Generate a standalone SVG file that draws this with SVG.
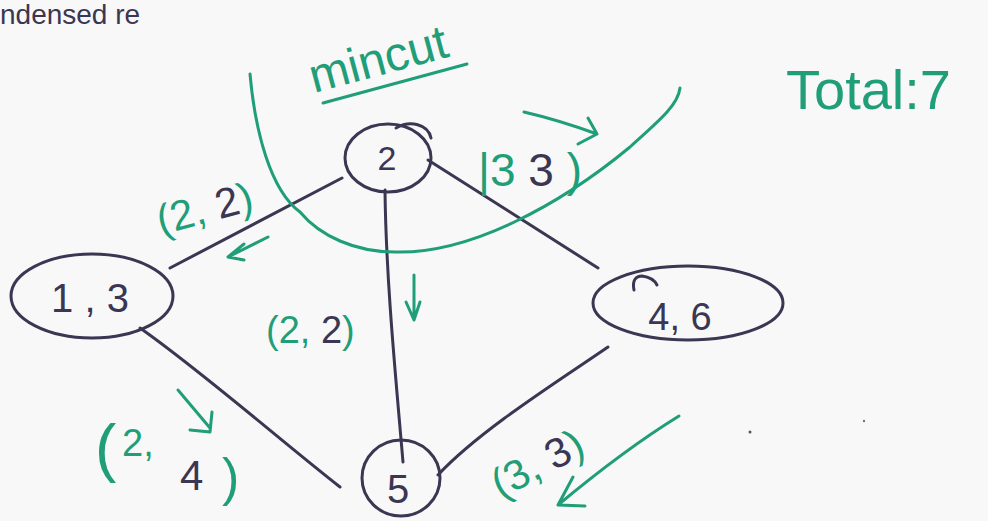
<svg xmlns="http://www.w3.org/2000/svg" width="988" height="521" viewBox="0 0 988 521">
  <defs>
    <style>
      .ink { fill: none; stroke: #3b3652; stroke-width: 3; stroke-linecap: round; stroke-linejoin: round; }
      .pen { fill: none; stroke: #1f9e78; stroke-width: 3; stroke-linecap: round; stroke-linejoin: round; }
      .t { font-family: "Liberation Sans", "DejaVu Sans", sans-serif; }
      .dark { fill: #3b3652; }
      .green { fill: #1f9e78; }
    </style>
  </defs>
  <rect width="988" height="521" fill="#f8f8f9"/>

  <!-- heading line along the top edge -->
  <text class="t dark" x="0" y="24" font-size="28">ndensed re</text>

  <!-- edges -->
  <g id="connectors">
    <path class="ink" d="M342,178 L170,268"/>
    <path class="ink" d="M385,190 C386,280 396,380 403,462"/>
    <path class="ink" d="M428,160 L598,268"/>
    <path class="ink" d="M140,328 C200,370 280,440 340,487"/>
    <path class="ink" d="M608,347 C560,380 480,430 438,475"/>
  </g>

  <!-- nodes -->
  <g id="node-2">
    <ellipse class="ink" cx="388" cy="158" rx="43" ry="34"/>
    <path class="ink" d="M396,128 C410,120 428,124 431,138"/>
    <text class="t dark" x="387" y="170" font-size="34" text-anchor="middle">2</text>
  </g>
  <g id="node-1-3">
    <ellipse class="ink" cx="92" cy="296" rx="81" ry="42"/>
    <text class="t dark" x="90" y="312" font-size="40" text-anchor="middle">1 , 3</text>
  </g>
  <g id="node-4-6">
    <ellipse class="ink" cx="688" cy="303" rx="95" ry="37"/>
    <path class="ink" d="M634,290 C632,280 636,276 642,276 C650,277 655,281 657,285"/>
    <text class="t dark" x="680" y="330" font-size="38" text-anchor="middle">4, 6</text>
  </g>
  <g id="node-5">
    <ellipse class="ink" cx="401" cy="478" rx="39" ry="38"/>
    <text class="t dark" x="398" y="503" font-size="40" text-anchor="middle">5</text>
  </g>

  <!-- cut line and its title -->
  <g id="mincut">
    <path class="pen" d="M250,74 C255,130 270,190 300,212 C320,236 355,252 395,252 C470,254 560,205 630,147 C660,120 678,105 680,88"/>
    <text class="t green" x="314" y="93" font-size="48" transform="rotate(-15 314 93)">mincut</text>
    <path class="pen" d="M323,103 L467,64"/>
  </g>

  <g id="total">
    <text class="t green" x="786" y="109" font-size="56">Total:7</text>
  </g>

  <!-- flow / capacity labels -->
  <g id="label-1-2" transform="rotate(-15 215 205)">
    <text class="t" x="155" y="220" font-size="42"><tspan class="green">(2, </tspan><tspan class="dark">2</tspan><tspan class="green">)</tspan></text>
  </g>
  <g id="label-2-5">
    <text class="t" x="266" y="343" font-size="38"><tspan class="green">(2, </tspan><tspan class="dark">2</tspan><tspan class="green">)</tspan></text>
  </g>
  <g id="label-2-4">
    <text class="t" x="478" y="186" font-size="46"><tspan class="green">|3 </tspan><tspan class="dark">3</tspan><tspan class="green"> )</tspan></text>
  </g>
  <g id="label-1-5">
    <text class="t green" x="95" y="470" font-size="64">(</text>
    <text class="t green" x="122" y="456" font-size="38">2,</text>
    <text class="t dark" x="180" y="490" font-size="42">4</text>
    <text class="t green" x="222" y="495" font-size="52">)</text>
  </g>
  <g id="label-4-5" transform="rotate(-28 535 455)">
    <text class="t" x="484" y="478" font-size="42"><tspan class="green">(3, </tspan><tspan class="dark">3</tspan><tspan class="green">)</tspan></text>
  </g>

  <!-- direction arrows -->
  <g id="arrows">
    <path class="pen" d="M268,237 L228,257 M244,244 L228,257 L244,260"/>
    <path class="pen" d="M414,275 L414,320 M406,302 L414,320 L420,302"/>
    <path class="pen" d="M524,112 C550,118 575,126 597,134 M588,118 L597,134 L578,144"/>
    <path class="pen" d="M178,390 L210,428 M212,412 L210,432 L190,430"/>
    <path class="pen" d="M679,416 C640,440 600,470 558,505 M573,477 L558,505 L585,506"/>
  </g>

  <!-- specks on the paper -->
  <circle cx="750" cy="432" r="1.5" fill="#555"/>
  <circle cx="864" cy="421" r="1.2" fill="#777"/>
</svg>
